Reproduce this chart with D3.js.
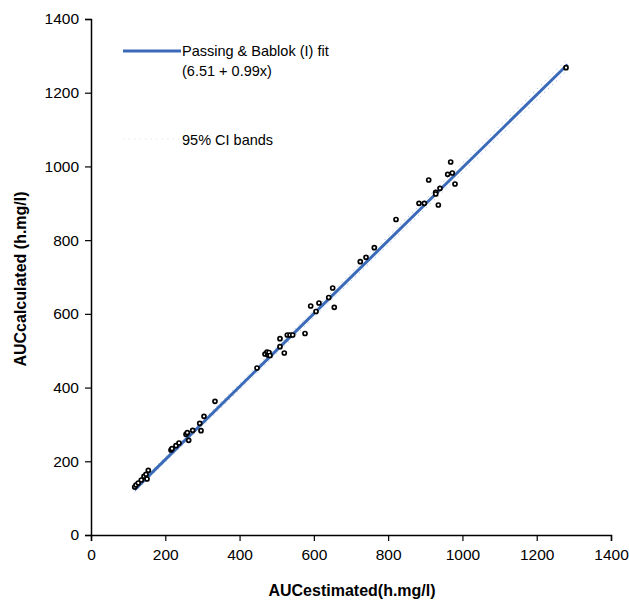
<!DOCTYPE html>
<html>
<head>
<meta charset="utf-8">
<script src="https://cdn.jsdelivr.net/npm/d3@7"></script>
<style>
  html, body { margin: 0; padding: 0; background: #fff; }
  svg { display: block; }
  text { font-family: "Liberation Sans", Arial, sans-serif; fill: #000; }
</style>
</head>
<body>
<svg id="chart" width="629" height="600"></svg>
<script>
// Observed pairs: estimated AUC (x) and calculated AUC (y), h.mg/l
const aucEstimated = [
  117.7, 121.2, 127.3, 135.4, 142.7, 148.1, 150.8, 154.3,
  215.4, 218.1, 228.8, 236.9, 255.8, 259.3, 263.0, 273.8, 292.7, 296.2, 304.2, 333.8,
  446.9, 468.5, 473.8, 476.5, 479.2, 481.9, 508.8, 508.8, 520.4, 528.5, 535.8, 543.0,
  576.2, 591.5, 605.8, 613.8, 640.0, 650.7, 655.0,
  725.0, 740.4, 762.7, 821.2,
  883.1, 897.4, 909.2, 928.0, 928.0, 935.1, 939.6, 960.3, 968.4, 972.7, 980.0,
  1278.9
];
const aucCalculated = [
  130.2, 135.7, 141.1, 149.2, 159.3, 164.7, 151.9, 175.5,
  230.6, 234.2, 242.3, 249.6, 273.2, 277.6, 256.9, 284.1, 303.1, 283.0, 322.1, 362.8,
  453.1, 491.1, 496.5, 488.4, 495.2, 487.0, 510.9, 532.6, 493.8, 542.6, 542.6, 542.6,
  546.7, 621.3, 606.4, 629.5, 644.4, 670.2, 617.8,
  741.5, 753.5, 779.5, 856.0,
  900.0, 900.0, 963.2, 929.8, 925.2, 895.4, 940.7, 978.7, 1012.0, 982.2, 952.3,
  1267.9
];

// Passing & Bablok regression and its 95% confidence band
const fitIntercept = 6.51;
const fitSlope = 0.99;
const bandLower = { intercept: 1.5, slope: 0.982 };
const bandUpper = { intercept: 11.5, slope: 0.998 };
const fitRange = [117, 1283];

const xTicks = [0, 200, 400, 600, 800, 1000, 1200, 1400];
const yTicks = [0, 200, 400, 600, 800, 1000, 1200, 1400];

const svg = d3.select("#chart");
const x = d3.scaleLinear().domain([0, 1400]).range([91, 611]);
const y = d3.scaleLinear().domain([0, 1400]).range([535, 19]);

const blue = "#3b6bb8";
const plain = d3.format("d");

// Axes
const xAxis = svg.append("g")
  .attr("transform", `translate(0,${y(0)})`)
  .call(d3.axisBottom(x).tickValues(xTicks).tickFormat(plain)
    .tickSizeOuter(0).tickSize(6).tickPadding(8));
const yAxis = svg.append("g")
  .attr("transform", `translate(${x(0)},0)`)
  .call(d3.axisLeft(y).tickValues(yTicks).tickFormat(plain)
    .tickSizeOuter(0).tickSize(6).tickPadding(6));
[xAxis, yAxis].forEach(g => {
  g.select(".domain").attr("stroke", "#000").attr("stroke-width", 1.5);
  g.selectAll(".tick line").attr("stroke", "#000").attr("stroke-width", 1.2);
  g.selectAll(".tick text")
    .style("font-family", "'Liberation Sans', Arial, sans-serif")
    .style("font-size", "15.5px").attr("fill", "#000");
});

// Axis titles
svg.append("text")
  .attr("x", 352).attr("y", 596)
  .attr("text-anchor", "middle")
  .style("font-size", "16px").style("font-weight", "bold")
  .text("AUCestimated(h.mg/l)");
svg.append("text")
  .attr("transform", "translate(26,279) rotate(-90)")
  .attr("text-anchor", "middle")
  .style("font-size", "16px").style("font-weight", "bold")
  .text("AUCcalculated (h.mg/l)");

// Confidence band lines
const line = d3.line().x(d => x(d[0])).y(d => y(d[1]));
[bandLower, bandUpper].forEach(b => {
  svg.append("path")
    .datum(fitRange.map(v => [v, b.intercept + b.slope * v]))
    .attr("d", line)
    .attr("fill", "none")
    .attr("stroke", "#9db7dc")
    .attr("stroke-width", 1)
    .attr("stroke-dasharray", "1.5,4")
    .attr("opacity", 0.8);
});

// Fit line
svg.append("path")
  .datum(fitRange.map(v => [v, fitIntercept + fitSlope * v]))
  .attr("d", line)
  .attr("fill", "none")
  .attr("stroke", blue)
  .attr("stroke-width", 3);

// Data points
svg.append("g").selectAll("circle")
  .data(aucEstimated.map((v, i) => [v, aucCalculated[i]]))
  .join("circle")
  .attr("cx", d => x(d[0]))
  .attr("cy", d => y(d[1]))
  .attr("r", 2)
  .attr("fill", "#fff")
  .attr("stroke", "#000")
  .attr("stroke-width", 1.7);

// Legend
svg.append("line")
  .attr("x1", 123).attr("x2", 181).attr("y1", 51).attr("y2", 51)
  .attr("stroke", blue).attr("stroke-width", 3);
svg.append("text").attr("x", 182).attr("y", 56)
  .style("font-size", "14.5px").text("Passing & Bablok (I) fit");
svg.append("text").attr("x", 182).attr("y", 76)
  .style("font-size", "14.5px").text("(6.51 + 0.99x)");
svg.append("line")
  .attr("x1", 123).attr("x2", 181).attr("y1", 139).attr("y2", 139)
  .attr("stroke", "#e4e8ee").attr("stroke-width", 1)
  .attr("stroke-dasharray", "1.5,4");
svg.append("text").attr("x", 182).attr("y", 145)
  .style("font-size", "14.5px").text("95% CI bands");
</script>
</body>
</html>
